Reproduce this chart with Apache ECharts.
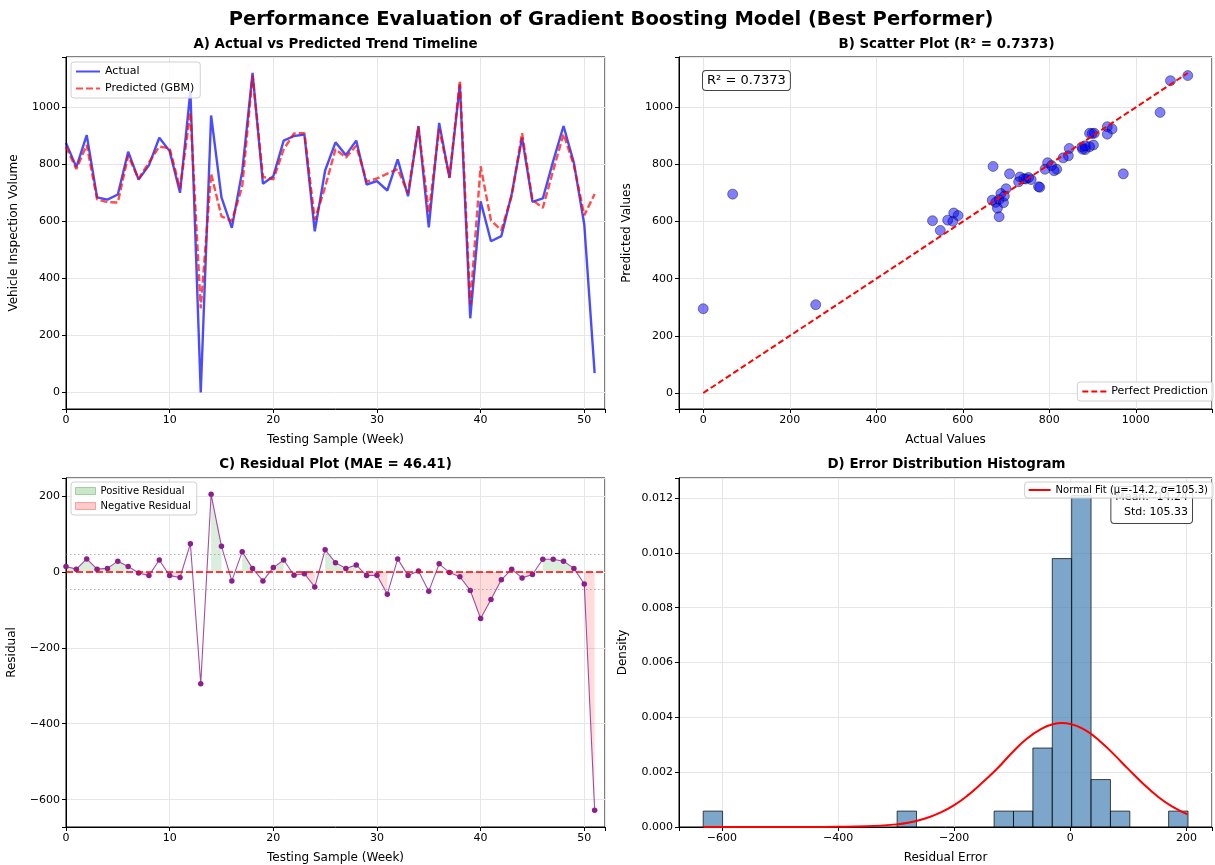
<!DOCTYPE html>
<html>
<head>
<meta charset="utf-8">
<script src="https://cdn.jsdelivr.net/npm/echarts@6/dist/echarts.min.js"></script>
<style>
  html, body { margin: 0; padding: 0; background: #fff; }
  #chart { width: 1215px; height: 865px; }
</style>
</head>
<body>
<div id="chart"></div>
<script>
// values, one entry per testing week (0..51)
const actual = [
  875, 790, 902, 684, 676, 694, 844, 746, 796, 893,
  846, 700, 1056, 0, 971, 684, 577, 775, 1120, 732,
  758, 883, 899, 904, 565, 778, 877, 832, 883, 729,
  741, 708, 817, 688, 934, 579, 945, 752, 1080, 260,
  670, 530, 548, 696, 893, 668, 680, 811, 934, 805,
  589, 68
];
const predicted = [
  861, 783, 868, 677, 667, 666, 830, 749, 806, 862,
  856, 715, 982, 295, 767, 617, 601, 722, 1111, 756,
  747, 852, 908, 909, 605, 720, 853, 823, 865, 739,
  750, 767, 783, 698, 932, 630, 924, 754, 1093, 309,
  793, 603, 569, 689, 909, 675, 647, 778, 906, 796,
  621, 696
];
const residuals = [
  14, 7, 34, 7, 9, 28, 14, -3, -10, 31,
  -10, -15, 74, -295, 204, 67, -24, 53, 9, -24,
  11, 31, -9, -5, -40, 58, 24, 9, 18, -10,
  -9, -59, 34, -10, 2, -51, 21, -2, -13, -49,
  -123, -73, -21, 7, -16, -7, 33, 33, 28, 9,
  -32, -628
];
const mae = 46.41;
const r2 = 0.7373;
const errMean = -14.24;
const errStd = 105.33;

// histogram bins that hold data (left edge) and their density
const binWidth = 33.4;
const histLeft = [-632.3, -298.3, -131.3, -97.9, -64.5, -31.1, 2.3, 35.7, 69.1, 169.3];
const histDensity = [0.00058, 0.00058, 0.00058, 0.00058, 0.00288, 0.00979, 0.01209, 0.00173, 0.00058, 0.00058];

// normal fit curve
const fitX = [-632, -550, -500, -450, -400, -350, -300, -275, -250, -225, -200, -175, -150, -125, -100, -75, -50, -30, -14, 0, 25, 50, 75, 100, 125, 150, 175, 202];
const fitY = [0, 0, 0.0000001, 0.0000007, 0.0000046, 0.0000235, 0.0000953, 0.000176, 0.000309, 0.000515, 0.000798, 0.00118, 0.00165, 0.00215, 0.00272, 0.00322, 0.00358, 0.00375, 0.00379, 0.00376, 0.00354, 0.00315, 0.00265, 0.00211, 0.00159, 0.00112, 0.00075, 0.00046];

const FONT = "DejaVu Sans";

function axisText(step, digits) {
  return (v) => {
    if (Math.abs(v / step - Math.round(v / step)) > 1e-6) return "";
    const s = digits ? v.toFixed(digits) : String(Math.round(v));
    return s.replace("-", "\u2212");
  };
}

function valAxis(gridIndex, min, max, splitNumber, step, name, nameGap, digits) {
  return {
    type: "value",
    gridIndex,
    min,
    max,
    splitNumber,
    name,
    nameLocation: "middle",
    nameGap,
    nameTextStyle: { fontFamily: FONT, fontSize: 12, color: "#000" },
    axisLine: { show: true, onZero: false, lineStyle: { color: "#000", width: 1 } },
    axisTick: { show: true, length: 4, lineStyle: { color: "#000" } },
    axisLabel: {
      fontFamily: FONT, fontSize: 11, color: "#000", margin: 6,
      formatter: axisText(step, digits)
    },
    splitLine: { show: true, lineStyle: { color: "#e6e6e6", width: 1 } }
  };
}

function title(text, x, y, size) {
  return {
    type: "text", x, y, z: 10,
    style: {
      text, font: "bold " + size + "px 'DejaVu Sans'", fill: "#000",
      align: "center", verticalAlign: "middle", textAlign: "center", textVerticalAlign: "middle"
    }
  };
}

const legendBox = {
  backgroundColor: "rgba(255,255,255,0.8)", borderColor: "#d0d0d0", borderWidth: 1, borderRadius: 3
};

const weekPts = (arr) => arr.map((v, i) => [i, v]);
const lo = Math.min(Math.min(...actual), Math.min(...predicted));
const hi = Math.max(Math.max(...actual), Math.max(...predicted));

const chart = echarts.init(document.getElementById("chart"));
chart.setOption({
  animation: false,
  backgroundColor: "#fff",
  textStyle: { fontFamily: FONT },
  grid: [
    { left: 66, top: 57, width: 539, height: 352, show: true, borderColor: "#000", borderWidth: 1 },
    { left: 679, top: 57, width: 535, height: 352, show: true, borderColor: "#000", borderWidth: 1 },
    { left: 66, top: 478, width: 539, height: 351, show: true, borderColor: "#000", borderWidth: 1 },
    { left: 679, top: 478, width: 535, height: 351, show: true, borderColor: "#000", borderWidth: 1 }
  ],
  xAxis: [
    valAxis(0, 0, 52, 5, 10, "Testing Sample (Week)", 25),
    valAxis(1, -56, 1176, 5, 200, "Actual Values", 25),
    valAxis(2, 0, 52, 5, 10, "Testing Sample (Week)", 25),
    valAxis(3, -674, 244, 5, 200, "Residual Error", 25)
  ],
  yAxis: [
    valAxis(0, -58, 1176, 5, 200, "Vehicle Inspection Volume", 46),
    valAxis(1, -56, 1176, 5, 200, "Predicted Values", 46),
    valAxis(2, -672, 247, 5, 200, "Residual", 48),
    valAxis(3, 0, 0.01273, 6, 0.002, "Density", 50, 3)
  ],
  legend: [
    Object.assign({
      data: ["Actual", "Predicted (GBM)"],
      left: 71, top: 62, orient: "vertical",
      itemWidth: 24, itemHeight: 10, itemGap: 6, padding: [4, 6, 4, 4],
      itemStyle: { opacity: 0 },
      textStyle: { fontFamily: FONT, fontSize: 11, color: "#000" }
    }, legendBox),
    Object.assign({
      data: ["Perfect Prediction"],
      right: 2, top: 382,
      itemWidth: 24, itemHeight: 10, padding: [4, 5, 4, 4],
      itemStyle: { opacity: 0 },
      textStyle: { fontFamily: FONT, fontSize: 11, color: "#000" }
    }, legendBox),
    Object.assign({
      data: [
        { name: "Positive Residual", icon: "rect", itemStyle: { color: "rgba(0,128,0,0.2)", borderColor: "rgba(0,128,0,0.3)", borderWidth: 1 } },
        { name: "Negative Residual", icon: "rect", itemStyle: { color: "rgba(255,0,0,0.2)", borderColor: "rgba(255,0,0,0.3)", borderWidth: 1 } }
      ],
      left: 71, top: 482, orient: "vertical",
      itemWidth: 20, itemHeight: 7, itemGap: 5, padding: [4, 6, 4, 4],
      textStyle: { fontFamily: FONT, fontSize: 10, color: "#000" }
    }, legendBox),
    Object.assign({
      data: ["Normal Fit (\u03bc=-14.2, \u03c3=105.3)"],
      right: 2, top: 482, z: 20,
      itemWidth: 22, itemHeight: 8, padding: [3, 5, 3, 3],
      itemStyle: { opacity: 0 },
      textStyle: { fontFamily: FONT, fontSize: 10, color: "#000" }
    }, legendBox, { backgroundColor: "rgba(255,255,255,0.85)" })
  ],
  graphic: [
    title("Performance Evaluation of Gradient Boosting Model (Best Performer)", 611, 20, 19.5),
    title("A) Actual vs Predicted Trend Timeline", 335.5, 45, 13.4),
    title("B) Scatter Plot (R\u00b2 = " + r2 + ")", 946.5, 45, 13.4),
    title("C) Residual Plot (MAE = " + mae + ")", 335.5, 465, 13.4),
    title("D) Error Distribution Histogram", 946.5, 465, 13.4),
    { type: "text", x: 703, y: 71, z: 10, style: { text: "R\u00b2 = " + r2, font: "13px 'DejaVu Sans'", fill: "#000", align: "left", verticalAlign: "top", backgroundColor: "#fff", borderColor: "#444", borderWidth: 1, borderRadius: 3, padding: [3, 4, 3, 4] } },
    { type: "text", x: 1192, y: 523, z: 5, style: { text: "Mean: " + errMean + "\nStd: " + errStd, font: "11px 'DejaVu Sans'", fill: "#000", align: "right", verticalAlign: "bottom", lineHeight: 15, backgroundColor: "#fff", borderColor: "#444", borderWidth: 1, borderRadius: 3, padding: [3, 4, 3, 4] } }
  ],
  series: [
    // A
    {
      name: "Actual", type: "line", xAxisIndex: 0, yAxisIndex: 0,
      data: weekPts(actual), symbol: "none", z: 3,
      itemStyle: { color: "#0000ff" },
      lineStyle: { color: "#0000ff", width: 2.4, opacity: 0.7 }
    },
    {
      name: "Predicted (GBM)", type: "line", xAxisIndex: 0, yAxisIndex: 0,
      data: weekPts(predicted), symbol: "none", z: 4,
      itemStyle: { color: "#ff0000" },
      lineStyle: { color: "#ff0000", width: 2.4, opacity: 0.7, type: [7, 3] }
    },
    // B
    {
      name: "Samples", type: "scatter", xAxisIndex: 1, yAxisIndex: 1,
      data: actual.map((a, i) => [a, predicted[i]]),
      symbolSize: 10, z: 3,
      itemStyle: { color: "#0000ff", opacity: 0.5, borderColor: "#000", borderWidth: 0.8 }
    },
    {
      name: "Perfect Prediction", type: "line", xAxisIndex: 1, yAxisIndex: 1,
      data: [[lo, lo], [hi, hi]], symbol: "none", z: 4,
      itemStyle: { color: "#ff0000" },
      lineStyle: { color: "#ff0000", width: 2, type: [6, 3] }
    },
    // C
    {
      name: "Positive Residual", type: "line", xAxisIndex: 2, yAxisIndex: 2,
      data: residuals.map((r, i) => [i, r >= 0 ? r : null]),
      symbol: "none", connectNulls: false, z: 1,
      itemStyle: { color: "rgba(0,128,0,0.2)" },
      lineStyle: { width: 0, opacity: 0 },
      areaStyle: { color: "rgba(0,128,0,0.2)", origin: 0 }
    },
    {
      name: "Negative Residual", type: "line", xAxisIndex: 2, yAxisIndex: 2,
      data: residuals.map((r, i) => [i, r < 0 ? r : null]),
      symbol: "none", connectNulls: false, z: 1,
      itemStyle: { color: "rgba(255,0,0,0.2)" },
      lineStyle: { width: 0, opacity: 0 },
      areaStyle: { color: "rgba(255,0,0,0.2)", origin: 0 }
    },
    {
      name: "Residuals", type: "line", xAxisIndex: 2, yAxisIndex: 2,
      data: weekPts(residuals), symbol: "circle", symbolSize: 5.5, z: 3,
      itemStyle: { color: "#8b1f8b" },
      lineStyle: { color: "#800080", width: 1.1, opacity: 0.7 },
      markLine: {
        silent: true, symbol: ["none", "none"], label: { show: false },
        data: [
          { yAxis: 0, lineStyle: { color: "rgba(255,0,0,0.75)", width: 2, type: [7, 3] } },
          { yAxis: mae, lineStyle: { color: "rgba(128,128,128,0.6)", width: 1, type: [1.5, 2.5] } },
          { yAxis: -mae, lineStyle: { color: "rgba(128,128,128,0.6)", width: 1, type: [1.5, 2.5] } }
        ]
      }
    },
    // D
    {
      name: "Histogram", type: "custom", xAxisIndex: 3, yAxisIndex: 3,
      data: histLeft.map((l, i) => [l, l + binWidth, histDensity[i]]),
      encode: { x: [0, 1], y: 2 }, z: 2,
      renderItem: (params, api) => {
        const p0 = api.coord([api.value(0), 0]);
        const p1 = api.coord([api.value(1), api.value(2)]);
        return {
          type: "rect",
          shape: { x: p0[0], y: p1[1], width: p1[0] - p0[0], height: p0[1] - p1[1] },
          style: { fill: "rgba(70,130,180,0.7)", stroke: "rgba(0,0,0,0.7)", lineWidth: 1 }
        };
      }
    },
    {
      name: "Normal Fit (\u03bc=-14.2, \u03c3=105.3)", type: "line", xAxisIndex: 3, yAxisIndex: 3,
      data: fitX.map((x, i) => [x, fitY[i]]), symbol: "none", smooth: true, z: 4,
      itemStyle: { color: "#ff0000" },
      lineStyle: { color: "#ff0000", width: 2 }
    }
  ]
});
</script>
</body>
</html>
